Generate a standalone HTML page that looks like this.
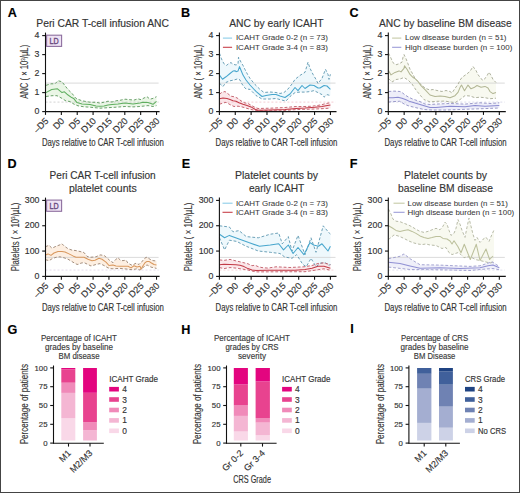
<!DOCTYPE html><html><head><meta charset="utf-8"><style>html,body{margin:0;padding:0;background:#fff;width:520px;height:493px;overflow:hidden;position:relative}svg text{font-family:"Liberation Sans", sans-serif}</style></head><body><svg width="520" height="493" viewBox="0 0 520 493" style="position:absolute;left:0;top:0;font-family:'Liberation Sans', sans-serif">
<rect x="0" y="0" width="520" height="493" fill="#fff"/>
<text x="7.70" y="17.10" font-size="12.6" text-anchor="start" fill="#000" font-weight="bold" stroke="#000" stroke-width="0.15">A</text>
<text x="181.10" y="16.70" font-size="12.6" text-anchor="start" fill="#000" font-weight="bold" stroke="#000" stroke-width="0.15">B</text>
<text x="349.60" y="17.00" font-size="12.6" text-anchor="start" fill="#000" font-weight="bold" stroke="#000" stroke-width="0.15">C</text>
<text x="7.60" y="168.30" font-size="12.6" text-anchor="start" fill="#000" font-weight="bold" stroke="#000" stroke-width="0.15">D</text>
<text x="181.80" y="168.30" font-size="12.6" text-anchor="start" fill="#000" font-weight="bold" stroke="#000" stroke-width="0.15">E</text>
<text x="349.80" y="168.30" font-size="12.6" text-anchor="start" fill="#000" font-weight="bold" stroke="#000" stroke-width="0.15">F</text>
<text x="7.60" y="333.60" font-size="12.6" text-anchor="start" fill="#000" font-weight="bold" stroke="#000" stroke-width="0.15">G</text>
<text x="181.30" y="333.60" font-size="12.6" text-anchor="start" fill="#000" font-weight="bold" stroke="#000" stroke-width="0.15">H</text>
<text x="350.20" y="333.30" font-size="12.6" text-anchor="start" fill="#000" font-weight="bold" stroke="#000" stroke-width="0.15">I</text>
<polygon points="46.00,85.30 51.00,83.80 55.00,83.80 58.00,80.70 62.00,81.80 65.00,85.70 68.00,89.50 72.00,93.40 76.00,98.50 82.00,100.80 90.00,102.20 96.00,102.30 100.00,103.10 104.00,102.20 108.00,101.20 112.00,102.00 116.00,100.80 120.00,100.30 125.00,99.20 130.00,99.70 134.00,100.10 138.00,98.80 141.00,99.70 144.00,98.00 147.00,96.70 150.00,99.20 153.00,98.40 156.50,96.70 156.50,105.60 153.00,106.50 148.00,105.60 140.00,106.50 133.00,106.90 125.00,106.50 116.00,107.20 108.00,107.70 100.00,108.20 90.00,107.20 84.00,106.80 78.00,105.80 74.00,104.20 70.00,101.50 66.00,101.00 62.00,98.40 57.00,95.70 52.00,95.70 46.00,96.50" fill="#eaf6e6" stroke="none"/>
<line x1="45.50" y1="83.10" x2="158.60" y2="83.10" stroke="#d2d2d2" stroke-width="0.8"/>
<line x1="45.50" y1="102.10" x2="158.60" y2="102.10" stroke="#c8c8c8" stroke-width="0.8" stroke-dasharray="2,2"/>
<polyline points="46.00,85.30 51.00,83.80 55.00,83.80 58.00,80.70 62.00,81.80 65.00,85.70 68.00,89.50 72.00,93.40 76.00,98.50 82.00,100.80 90.00,102.20 96.00,102.30 100.00,103.10 104.00,102.20 108.00,101.20 112.00,102.00 116.00,100.80 120.00,100.30 125.00,99.20 130.00,99.70 134.00,100.10 138.00,98.80 141.00,99.70 144.00,98.00 147.00,96.70 150.00,99.20 153.00,98.40 156.50,96.70" fill="none" stroke="#5a965a" stroke-width="0.9" stroke-dasharray="2.8,1.9" stroke-linejoin="round"/>
<polyline points="46.00,96.50 52.00,95.70 57.00,95.70 62.00,98.40 66.00,101.00 70.00,101.50 74.00,104.20 78.00,105.80 84.00,106.80 90.00,107.20 100.00,108.20 108.00,107.70 116.00,107.20 125.00,106.50 133.00,106.90 140.00,106.50 148.00,105.60 153.00,106.50 156.50,105.60" fill="none" stroke="#5a965a" stroke-width="0.9" stroke-dasharray="2.8,1.9" stroke-linejoin="round"/>
<polyline points="45.90,92.60 51.70,89.50 57.50,88.80 62.00,92.60 64.40,91.80 67.00,94.20 71.70,97.60 73.60,98.40 77.00,102.60 82.00,104.00 90.00,104.50 96.00,105.90 100.00,106.30 104.00,105.90 108.00,104.90 112.00,104.50 118.00,104.00 125.00,103.00 133.00,103.90 140.00,103.00 143.00,102.20 148.00,102.60 153.00,104.30 156.50,101.40" fill="none" stroke="#5fae5f" stroke-width="1.05" stroke-linejoin="round"/>
<line x1="45.50" y1="32.60" x2="45.50" y2="112.10" stroke="#111" stroke-width="1.1"/>
<line x1="42.20" y1="111.60" x2="45.50" y2="111.60" stroke="#111" stroke-width="1.1"/>
<text x="39.50" y="114.20" font-size="8.8" text-anchor="end" fill="#333" font-weight="normal" stroke="#333" stroke-width="0.15">0</text>
<line x1="42.20" y1="92.60" x2="45.50" y2="92.60" stroke="#111" stroke-width="1.1"/>
<text x="39.50" y="95.20" font-size="8.8" text-anchor="end" fill="#333" font-weight="normal" stroke="#333" stroke-width="0.15">1</text>
<line x1="42.20" y1="73.60" x2="45.50" y2="73.60" stroke="#111" stroke-width="1.1"/>
<text x="39.50" y="76.20" font-size="8.8" text-anchor="end" fill="#333" font-weight="normal" stroke="#333" stroke-width="0.15">2</text>
<line x1="42.20" y1="54.60" x2="45.50" y2="54.60" stroke="#111" stroke-width="1.1"/>
<text x="39.50" y="57.20" font-size="8.8" text-anchor="end" fill="#333" font-weight="normal" stroke="#333" stroke-width="0.15">3</text>
<line x1="42.20" y1="35.60" x2="45.50" y2="35.60" stroke="#111" stroke-width="1.1"/>
<text x="39.50" y="38.20" font-size="8.8" text-anchor="end" fill="#333" font-weight="normal" stroke="#333" stroke-width="0.15">4</text>
<line x1="45.00" y1="111.60" x2="159.60" y2="111.60" stroke="#111" stroke-width="1.1"/>
<line x1="45.50" y1="111.60" x2="45.50" y2="114.90" stroke="#111" stroke-width="1.1"/>
<text transform="translate(49.10,121.60) rotate(-45)" font-size="9.2" text-anchor="end" fill="#333" stroke="#333" stroke-width="0.15">–D5</text>
<line x1="61.36" y1="111.60" x2="61.36" y2="114.90" stroke="#111" stroke-width="1.1"/>
<text transform="translate(64.96,121.60) rotate(-45)" font-size="9.2" text-anchor="end" fill="#333" stroke="#333" stroke-width="0.15">D0</text>
<line x1="77.22" y1="111.60" x2="77.22" y2="114.90" stroke="#111" stroke-width="1.1"/>
<text transform="translate(80.82,121.60) rotate(-45)" font-size="9.2" text-anchor="end" fill="#333" stroke="#333" stroke-width="0.15">D5</text>
<line x1="93.08" y1="111.60" x2="93.08" y2="114.90" stroke="#111" stroke-width="1.1"/>
<text transform="translate(96.68,121.60) rotate(-45)" font-size="9.2" text-anchor="end" fill="#333" stroke="#333" stroke-width="0.15">D10</text>
<line x1="108.94" y1="111.60" x2="108.94" y2="114.90" stroke="#111" stroke-width="1.1"/>
<text transform="translate(112.54,121.60) rotate(-45)" font-size="9.2" text-anchor="end" fill="#333" stroke="#333" stroke-width="0.15">D15</text>
<line x1="124.80" y1="111.60" x2="124.80" y2="114.90" stroke="#111" stroke-width="1.1"/>
<text transform="translate(128.40,121.60) rotate(-45)" font-size="9.2" text-anchor="end" fill="#333" stroke="#333" stroke-width="0.15">D20</text>
<line x1="140.66" y1="111.60" x2="140.66" y2="114.90" stroke="#111" stroke-width="1.1"/>
<text transform="translate(144.26,121.60) rotate(-45)" font-size="9.2" text-anchor="end" fill="#333" stroke="#333" stroke-width="0.15">D25</text>
<line x1="156.52" y1="111.60" x2="156.52" y2="114.90" stroke="#111" stroke-width="1.1"/>
<text transform="translate(160.12,121.60) rotate(-45)" font-size="9.2" text-anchor="end" fill="#333" stroke="#333" stroke-width="0.15">D30</text>
<text transform="translate(27.90,71.80) rotate(-90)" font-size="10.2" text-anchor="middle" fill="#333" stroke="#333" stroke-width="0.12" textLength="54" lengthAdjust="spacingAndGlyphs">ANC ( × 10<tspan font-size="6" dy="-3.2">3</tspan><tspan dy="3.2">/µL)</tspan></text>
<polygon points="219.50,53.20 221.50,58.90 224.00,63.80 226.50,65.40 229.00,63.40 231.00,62.60 233.00,64.20 236.00,65.00 238.00,64.20 238.50,57.30 241.00,62.20 243.00,65.40 245.00,69.50 247.50,74.30 250.00,78.40 255.00,84.50 260.00,89.40 264.00,92.50 270.00,92.00 276.00,92.50 280.00,93.50 284.00,92.50 288.00,89.00 292.00,84.00 295.00,79.40 300.00,75.40 305.00,72.30 308.00,62.20 310.00,68.30 313.00,74.30 316.00,79.40 318.00,83.50 322.00,78.40 325.50,69.30 328.00,74.30 329.00,79.40 330.40,74.30 330.40,95.60 327.00,94.60 324.00,97.20 322.00,94.60 318.00,92.60 314.00,90.60 310.00,91.60 305.00,92.10 300.00,92.10 295.00,92.60 290.00,96.50 286.00,101.10 282.00,100.10 276.00,98.50 270.00,99.00 262.00,99.00 256.00,95.50 250.00,89.40 246.00,88.90 244.00,86.90 242.00,84.00 240.00,80.00 238.00,78.80 234.00,80.00 230.00,80.80 226.00,82.40 223.00,86.50 219.50,83.30" fill="#eef8fc" stroke="none"/>
<polygon points="219.50,94.20 222.00,92.30 225.00,91.50 228.00,93.80 231.00,96.20 235.00,96.90 238.00,98.50 241.00,100.80 244.00,102.70 248.00,103.50 252.00,105.80 255.00,107.30 258.00,108.50 270.00,108.20 285.00,107.50 296.00,106.50 305.00,106.50 312.00,106.20 318.00,105.40 322.00,104.60 326.00,103.50 330.40,102.70 330.40,108.10 325.00,108.50 320.00,108.80 310.00,109.20 296.00,109.60 280.00,110.80 258.00,110.80 255.00,110.40 250.00,109.20 246.00,108.10 242.00,106.90 238.00,106.20 234.00,106.50 230.00,104.60 226.00,102.30 223.00,103.10 219.50,104.20" fill="#fbe7ea" stroke="none"/>
<line x1="219.40" y1="83.10" x2="335.50" y2="83.10" stroke="#d2d2d2" stroke-width="0.8"/>
<line x1="219.40" y1="102.10" x2="335.50" y2="102.10" stroke="#f0c0c8" stroke-width="0.8" stroke-dasharray="2,2"/>
<polyline points="219.50,53.20 221.50,58.90 224.00,63.80 226.50,65.40 229.00,63.40 231.00,62.60 233.00,64.20 236.00,65.00 238.00,64.20 238.50,57.30 241.00,62.20 243.00,65.40 245.00,69.50 247.50,74.30 250.00,78.40 255.00,84.50 260.00,89.40 264.00,92.50 270.00,92.00 276.00,92.50 280.00,93.50 284.00,92.50 288.00,89.00 292.00,84.00 295.00,79.40 300.00,75.40 305.00,72.30 308.00,62.20 310.00,68.30 313.00,74.30 316.00,79.40 318.00,83.50 322.00,78.40 325.50,69.30 328.00,74.30 329.00,79.40 330.40,74.30" fill="none" stroke="#5b96b0" stroke-width="0.9" stroke-dasharray="2.8,1.9" stroke-linejoin="round"/>
<polyline points="219.50,83.30 223.00,86.50 226.00,82.40 230.00,80.80 234.00,80.00 238.00,78.80 240.00,80.00 242.00,84.00 244.00,86.90 246.00,88.90 250.00,89.40 256.00,95.50 262.00,99.00 270.00,99.00 276.00,98.50 282.00,100.10 286.00,101.10 290.00,96.50 295.00,92.60 300.00,92.10 305.00,92.10 310.00,91.60 314.00,90.60 318.00,92.60 322.00,94.60 324.00,97.20 327.00,94.60 330.40,95.60" fill="none" stroke="#5b96b0" stroke-width="0.9" stroke-dasharray="2.8,1.9" stroke-linejoin="round"/>
<polyline points="219.50,75.10 222.50,79.20 226.00,76.80 230.00,73.50 233.00,71.10 235.00,70.70 236.00,71.70 238.00,71.10 239.50,66.60 241.00,70.30 243.00,75.10 246.00,80.00 250.00,85.00 256.00,91.40 262.00,96.50 266.00,95.50 272.00,94.50 276.00,94.50 280.00,96.00 285.00,97.50 290.00,94.00 295.00,87.50 298.00,90.60 302.00,85.50 305.00,88.50 310.00,85.00 314.00,85.50 318.00,88.00 320.00,88.00 324.00,85.50 327.00,86.00 330.40,89.30" fill="none" stroke="#47a6cd" stroke-width="1.05" stroke-linejoin="round"/>
<polyline points="219.50,94.20 222.00,92.30 225.00,91.50 228.00,93.80 231.00,96.20 235.00,96.90 238.00,98.50 241.00,100.80 244.00,102.70 248.00,103.50 252.00,105.80 255.00,107.30 258.00,108.50 270.00,108.20 285.00,107.50 296.00,106.50 305.00,106.50 312.00,106.20 318.00,105.40 322.00,104.60 326.00,103.50 330.40,102.70" fill="none" stroke="#c05864" stroke-width="0.9" stroke-dasharray="2.8,1.9" stroke-linejoin="round"/>
<polyline points="219.50,104.20 223.00,103.10 226.00,102.30 230.00,104.60 234.00,106.50 238.00,106.20 242.00,106.90 246.00,108.10 250.00,109.20 255.00,110.40 258.00,110.80 280.00,110.80 296.00,109.60 310.00,109.20 320.00,108.80 325.00,108.50 330.40,108.10" fill="none" stroke="#c05864" stroke-width="0.9" stroke-dasharray="2.8,1.9" stroke-linejoin="round"/>
<polyline points="219.50,98.80 223.00,98.10 227.00,98.50 230.00,99.60 233.00,100.80 236.00,101.20 239.00,102.70 243.00,104.20 247.00,105.40 251.00,106.90 255.00,109.20 258.00,110.20 270.00,110.00 285.00,109.50 296.00,108.50 305.00,108.10 315.00,107.30 322.00,106.50 326.00,105.80 330.40,105.00" fill="none" stroke="#c23a46" stroke-width="1.05" stroke-linejoin="round"/>
<line x1="219.40" y1="32.60" x2="219.40" y2="112.10" stroke="#111" stroke-width="1.1"/>
<line x1="216.10" y1="111.60" x2="219.40" y2="111.60" stroke="#111" stroke-width="1.1"/>
<text x="213.40" y="114.20" font-size="8.8" text-anchor="end" fill="#333" font-weight="normal" stroke="#333" stroke-width="0.15">0</text>
<line x1="216.10" y1="92.60" x2="219.40" y2="92.60" stroke="#111" stroke-width="1.1"/>
<text x="213.40" y="95.20" font-size="8.8" text-anchor="end" fill="#333" font-weight="normal" stroke="#333" stroke-width="0.15">1</text>
<line x1="216.10" y1="73.60" x2="219.40" y2="73.60" stroke="#111" stroke-width="1.1"/>
<text x="213.40" y="76.20" font-size="8.8" text-anchor="end" fill="#333" font-weight="normal" stroke="#333" stroke-width="0.15">2</text>
<line x1="216.10" y1="54.60" x2="219.40" y2="54.60" stroke="#111" stroke-width="1.1"/>
<text x="213.40" y="57.20" font-size="8.8" text-anchor="end" fill="#333" font-weight="normal" stroke="#333" stroke-width="0.15">3</text>
<line x1="216.10" y1="35.60" x2="219.40" y2="35.60" stroke="#111" stroke-width="1.1"/>
<text x="213.40" y="38.20" font-size="8.8" text-anchor="end" fill="#333" font-weight="normal" stroke="#333" stroke-width="0.15">4</text>
<line x1="218.90" y1="111.60" x2="336.50" y2="111.60" stroke="#111" stroke-width="1.1"/>
<line x1="219.40" y1="111.60" x2="219.40" y2="114.90" stroke="#111" stroke-width="1.1"/>
<text transform="translate(223.00,121.60) rotate(-45)" font-size="9.2" text-anchor="end" fill="#333" stroke="#333" stroke-width="0.15">–D5</text>
<line x1="235.26" y1="111.60" x2="235.26" y2="114.90" stroke="#111" stroke-width="1.1"/>
<text transform="translate(238.86,121.60) rotate(-45)" font-size="9.2" text-anchor="end" fill="#333" stroke="#333" stroke-width="0.15">D0</text>
<line x1="251.12" y1="111.60" x2="251.12" y2="114.90" stroke="#111" stroke-width="1.1"/>
<text transform="translate(254.72,121.60) rotate(-45)" font-size="9.2" text-anchor="end" fill="#333" stroke="#333" stroke-width="0.15">D5</text>
<line x1="266.98" y1="111.60" x2="266.98" y2="114.90" stroke="#111" stroke-width="1.1"/>
<text transform="translate(270.58,121.60) rotate(-45)" font-size="9.2" text-anchor="end" fill="#333" stroke="#333" stroke-width="0.15">D10</text>
<line x1="282.84" y1="111.60" x2="282.84" y2="114.90" stroke="#111" stroke-width="1.1"/>
<text transform="translate(286.44,121.60) rotate(-45)" font-size="9.2" text-anchor="end" fill="#333" stroke="#333" stroke-width="0.15">D15</text>
<line x1="298.70" y1="111.60" x2="298.70" y2="114.90" stroke="#111" stroke-width="1.1"/>
<text transform="translate(302.30,121.60) rotate(-45)" font-size="9.2" text-anchor="end" fill="#333" stroke="#333" stroke-width="0.15">D20</text>
<line x1="314.56" y1="111.60" x2="314.56" y2="114.90" stroke="#111" stroke-width="1.1"/>
<text transform="translate(318.16,121.60) rotate(-45)" font-size="9.2" text-anchor="end" fill="#333" stroke="#333" stroke-width="0.15">D25</text>
<line x1="330.42" y1="111.60" x2="330.42" y2="114.90" stroke="#111" stroke-width="1.1"/>
<text transform="translate(334.02,121.60) rotate(-45)" font-size="9.2" text-anchor="end" fill="#333" stroke="#333" stroke-width="0.15">D30</text>
<text transform="translate(201.80,71.80) rotate(-90)" font-size="10.2" text-anchor="middle" fill="#333" stroke="#333" stroke-width="0.12" textLength="54" lengthAdjust="spacingAndGlyphs">ANC ( × 10<tspan font-size="6" dy="-3.2">3</tspan><tspan dy="3.2">/µL)</tspan></text>
<polygon points="388.50,53.10 391.00,58.20 393.00,62.70 396.00,64.80 399.00,63.80 402.00,62.20 403.00,57.20 404.00,54.60 406.00,58.70 408.00,63.80 410.00,69.30 413.00,74.40 415.00,78.50 418.00,81.50 422.00,85.60 426.00,88.60 430.00,90.00 433.00,89.50 437.00,90.50 442.00,91.50 446.00,90.50 450.00,91.50 452.00,93.00 455.00,88.40 458.00,84.30 460.00,80.30 462.00,77.40 466.00,74.60 470.00,71.40 473.00,66.50 476.00,70.50 478.00,74.60 481.00,78.70 483.00,80.30 486.00,77.40 489.00,72.20 491.00,75.40 493.00,79.40 496.00,82.50 496.00,98.20 490.00,98.70 485.00,97.70 480.00,97.20 475.00,97.70 470.00,96.00 465.00,95.60 460.00,99.60 455.00,102.70 445.00,101.10 437.00,101.30 430.00,101.90 424.00,99.60 420.00,95.00 416.00,90.00 412.00,84.00 408.00,80.00 404.00,77.50 400.00,79.00 396.00,79.50 392.00,82.00 388.50,78.50" fill="#f8f9f0" stroke="none"/>
<polygon points="388.50,91.50 394.00,91.10 400.00,91.50 402.00,92.50 405.00,94.90 408.00,96.80 412.00,98.80 416.00,100.20 420.00,101.60 425.00,104.00 430.00,104.50 436.00,104.10 450.00,103.50 465.00,104.10 480.00,102.80 490.00,103.50 499.30,102.80 499.30,108.00 485.00,108.60 465.00,109.30 446.00,110.00 432.00,110.00 424.00,109.50 416.00,107.70 409.00,106.00 404.50,104.20 399.80,101.30 393.00,101.60 388.50,102.10" fill="#eeeef9" stroke="none"/>
<line x1="388.30" y1="83.10" x2="504.80" y2="83.10" stroke="#d2d2d2" stroke-width="0.8"/>
<line x1="388.30" y1="102.10" x2="504.80" y2="102.10" stroke="#d0d0e4" stroke-width="0.8" stroke-dasharray="2,2"/>
<polyline points="388.50,53.10 391.00,58.20 393.00,62.70 396.00,64.80 399.00,63.80 402.00,62.20 403.00,57.20 404.00,54.60 406.00,58.70 408.00,63.80 410.00,69.30 413.00,74.40 415.00,78.50 418.00,81.50 422.00,85.60 426.00,88.60 430.00,90.00 433.00,89.50 437.00,90.50 442.00,91.50 446.00,90.50 450.00,91.50 452.00,93.00 455.00,88.40 458.00,84.30 460.00,80.30 462.00,77.40 466.00,74.60 470.00,71.40 473.00,66.50 476.00,70.50 478.00,74.60 481.00,78.70 483.00,80.30 486.00,77.40 489.00,72.20 491.00,75.40 493.00,79.40 496.00,82.50" fill="none" stroke="#a6a994" stroke-width="0.9" stroke-dasharray="2.8,1.9" stroke-linejoin="round"/>
<polyline points="388.50,78.50 392.00,82.00 396.00,79.50 400.00,79.00 404.00,77.50 408.00,80.00 412.00,84.00 416.00,90.00 420.00,95.00 424.00,99.60 430.00,101.90 437.00,101.30 445.00,101.10 455.00,102.70 460.00,99.60 465.00,95.60 470.00,96.00 475.00,97.70 480.00,97.20 485.00,97.70 490.00,98.70 496.00,98.20" fill="none" stroke="#a6a994" stroke-width="0.9" stroke-dasharray="2.8,1.9" stroke-linejoin="round"/>
<polyline points="388.50,70.40 391.00,74.90 395.00,72.40 399.00,70.90 401.00,71.90 404.00,68.30 404.50,65.80 407.00,69.30 410.00,74.40 413.00,77.50 415.00,78.50 418.00,81.50 421.00,85.60 425.00,89.60 430.00,95.00 435.00,96.60 440.00,96.10 445.00,96.60 450.00,97.80 455.00,95.70 458.00,92.40 460.00,87.60 461.50,85.10 464.50,90.80 468.00,85.10 471.00,88.80 474.00,87.60 477.00,85.50 481.00,87.20 485.00,86.40 488.00,88.00 490.00,91.60 493.00,93.60 496.00,92.60" fill="none" stroke="#b2b694" stroke-width="1.05" stroke-linejoin="round"/>
<polyline points="388.50,91.50 394.00,91.10 400.00,91.50 402.00,92.50 405.00,94.90 408.00,96.80 412.00,98.80 416.00,100.20 420.00,101.60 425.00,104.00 430.00,104.50 436.00,104.10 450.00,103.50 465.00,104.10 480.00,102.80 490.00,103.50 499.30,102.80" fill="none" stroke="#9090c4" stroke-width="0.9" stroke-dasharray="2.8,1.9" stroke-linejoin="round"/>
<polyline points="388.50,102.10 393.00,101.60 399.80,101.30 404.50,104.20 409.00,106.00 416.00,107.70 424.00,109.50 432.00,110.00 446.00,110.00 465.00,109.30 485.00,108.60 499.30,108.00" fill="none" stroke="#9090c4" stroke-width="0.9" stroke-dasharray="2.8,1.9" stroke-linejoin="round"/>
<polyline points="388.50,97.80 393.00,97.80 398.00,97.30 402.00,98.30 406.00,99.70 410.00,101.60 415.00,103.10 420.00,104.50 425.00,106.00 430.00,107.40 436.00,107.50 450.00,106.20 465.00,106.80 475.00,105.50 485.00,106.20 499.30,105.50" fill="none" stroke="#8a8ad0" stroke-width="1.05" stroke-linejoin="round"/>
<line x1="388.30" y1="32.60" x2="388.30" y2="112.10" stroke="#111" stroke-width="1.1"/>
<line x1="385.00" y1="111.60" x2="388.30" y2="111.60" stroke="#111" stroke-width="1.1"/>
<text x="382.30" y="114.20" font-size="8.8" text-anchor="end" fill="#333" font-weight="normal" stroke="#333" stroke-width="0.15">0</text>
<line x1="385.00" y1="92.60" x2="388.30" y2="92.60" stroke="#111" stroke-width="1.1"/>
<text x="382.30" y="95.20" font-size="8.8" text-anchor="end" fill="#333" font-weight="normal" stroke="#333" stroke-width="0.15">1</text>
<line x1="385.00" y1="73.60" x2="388.30" y2="73.60" stroke="#111" stroke-width="1.1"/>
<text x="382.30" y="76.20" font-size="8.8" text-anchor="end" fill="#333" font-weight="normal" stroke="#333" stroke-width="0.15">2</text>
<line x1="385.00" y1="54.60" x2="388.30" y2="54.60" stroke="#111" stroke-width="1.1"/>
<text x="382.30" y="57.20" font-size="8.8" text-anchor="end" fill="#333" font-weight="normal" stroke="#333" stroke-width="0.15">3</text>
<line x1="385.00" y1="35.60" x2="388.30" y2="35.60" stroke="#111" stroke-width="1.1"/>
<text x="382.30" y="38.20" font-size="8.8" text-anchor="end" fill="#333" font-weight="normal" stroke="#333" stroke-width="0.15">4</text>
<line x1="387.80" y1="111.60" x2="505.80" y2="111.60" stroke="#111" stroke-width="1.1"/>
<line x1="388.30" y1="111.60" x2="388.30" y2="114.90" stroke="#111" stroke-width="1.1"/>
<text transform="translate(391.90,121.60) rotate(-45)" font-size="9.2" text-anchor="end" fill="#333" stroke="#333" stroke-width="0.15">–D5</text>
<line x1="404.16" y1="111.60" x2="404.16" y2="114.90" stroke="#111" stroke-width="1.1"/>
<text transform="translate(407.76,121.60) rotate(-45)" font-size="9.2" text-anchor="end" fill="#333" stroke="#333" stroke-width="0.15">D0</text>
<line x1="420.02" y1="111.60" x2="420.02" y2="114.90" stroke="#111" stroke-width="1.1"/>
<text transform="translate(423.62,121.60) rotate(-45)" font-size="9.2" text-anchor="end" fill="#333" stroke="#333" stroke-width="0.15">D5</text>
<line x1="435.88" y1="111.60" x2="435.88" y2="114.90" stroke="#111" stroke-width="1.1"/>
<text transform="translate(439.48,121.60) rotate(-45)" font-size="9.2" text-anchor="end" fill="#333" stroke="#333" stroke-width="0.15">D10</text>
<line x1="451.74" y1="111.60" x2="451.74" y2="114.90" stroke="#111" stroke-width="1.1"/>
<text transform="translate(455.34,121.60) rotate(-45)" font-size="9.2" text-anchor="end" fill="#333" stroke="#333" stroke-width="0.15">D15</text>
<line x1="467.60" y1="111.60" x2="467.60" y2="114.90" stroke="#111" stroke-width="1.1"/>
<text transform="translate(471.20,121.60) rotate(-45)" font-size="9.2" text-anchor="end" fill="#333" stroke="#333" stroke-width="0.15">D20</text>
<line x1="483.46" y1="111.60" x2="483.46" y2="114.90" stroke="#111" stroke-width="1.1"/>
<text transform="translate(487.06,121.60) rotate(-45)" font-size="9.2" text-anchor="end" fill="#333" stroke="#333" stroke-width="0.15">D25</text>
<line x1="499.32" y1="111.60" x2="499.32" y2="114.90" stroke="#111" stroke-width="1.1"/>
<text transform="translate(502.92,121.60) rotate(-45)" font-size="9.2" text-anchor="end" fill="#333" stroke="#333" stroke-width="0.15">D30</text>
<text transform="translate(370.70,71.80) rotate(-90)" font-size="10.2" text-anchor="middle" fill="#333" stroke="#333" stroke-width="0.12" textLength="54" lengthAdjust="spacingAndGlyphs">ANC ( × 10<tspan font-size="6" dy="-3.2">3</tspan><tspan dy="3.2">/µL)</tspan></text>
<polygon points="45.50,246.70 49.00,245.30 52.00,248.20 56.00,246.30 60.00,244.80 62.00,243.80 64.00,245.80 68.00,248.70 72.00,250.10 76.00,250.60 80.00,251.50 84.00,252.50 87.00,256.30 90.00,257.30 96.00,256.80 100.00,254.90 104.00,255.40 107.00,257.80 110.00,260.70 113.00,262.60 116.00,259.20 118.00,257.80 121.00,260.70 124.00,260.50 126.00,260.10 128.00,263.20 132.00,265.30 136.00,263.20 139.00,264.50 141.00,262.30 143.00,260.60 145.00,258.00 147.00,257.10 150.00,259.30 153.00,260.60 156.50,261.00 156.50,268.40 151.00,267.10 147.00,264.90 143.00,267.50 140.00,270.10 137.00,268.80 132.00,269.70 126.00,269.00 120.00,268.40 112.00,268.80 108.00,267.90 104.00,265.50 100.00,263.60 96.00,264.50 91.00,266.00 88.00,264.50 84.00,262.60 81.00,263.10 78.00,264.50 76.00,264.00 72.00,261.60 68.00,259.20 64.00,257.80 60.00,256.80 56.00,257.30 52.00,258.80 49.00,260.70 45.50,259.70" fill="#fdefe2" stroke="none"/>
<line x1="45.50" y1="257.40" x2="158.60" y2="257.40" stroke="#d2d2d2" stroke-width="0.8"/>
<line x1="45.50" y1="270.07" x2="158.60" y2="270.07" stroke="#dcd0e6" stroke-width="0.8" stroke-dasharray="2,2"/>
<polyline points="45.50,246.70 49.00,245.30 52.00,248.20 56.00,246.30 60.00,244.80 62.00,243.80 64.00,245.80 68.00,248.70 72.00,250.10 76.00,250.60 80.00,251.50 84.00,252.50 87.00,256.30 90.00,257.30 96.00,256.80 100.00,254.90 104.00,255.40 107.00,257.80 110.00,260.70 113.00,262.60 116.00,259.20 118.00,257.80 121.00,260.70 124.00,260.50 126.00,260.10 128.00,263.20 132.00,265.30 136.00,263.20 139.00,264.50 141.00,262.30 143.00,260.60 145.00,258.00 147.00,257.10 150.00,259.30 153.00,260.60 156.50,261.00" fill="none" stroke="#9a8270" stroke-width="0.9" stroke-dasharray="2.8,1.9" stroke-linejoin="round"/>
<polyline points="45.50,259.70 49.00,260.70 52.00,258.80 56.00,257.30 60.00,256.80 64.00,257.80 68.00,259.20 72.00,261.60 76.00,264.00 78.00,264.50 81.00,263.10 84.00,262.60 88.00,264.50 91.00,266.00 96.00,264.50 100.00,263.60 104.00,265.50 108.00,267.90 112.00,268.80 120.00,268.40 126.00,269.00 132.00,269.70 137.00,268.80 140.00,270.10 143.00,267.50 147.00,264.90 151.00,267.10 156.50,268.40" fill="none" stroke="#9a8270" stroke-width="0.9" stroke-dasharray="2.8,1.9" stroke-linejoin="round"/>
<polyline points="45.50,254.90 48.00,253.90 51.00,255.40 54.00,253.00 58.00,251.50 62.00,251.50 65.00,252.00 69.00,253.90 73.00,255.90 76.00,257.30 84.00,257.30 88.00,259.20 92.00,260.70 95.00,260.20 99.00,258.30 102.00,259.20 106.00,262.10 109.00,265.50 113.00,265.00 116.00,266.00 120.00,266.30 128.00,266.20 131.00,267.90 134.00,265.80 137.00,267.10 140.00,266.20 141.00,269.20 143.00,265.80 145.00,262.70 147.00,261.40 149.00,261.40 151.00,262.70 154.00,264.50 156.50,264.90" fill="none" stroke="#d9985e" stroke-width="1.05" stroke-linejoin="round"/>
<line x1="45.50" y1="197.60" x2="45.50" y2="276.90" stroke="#111" stroke-width="1.1"/>
<line x1="42.20" y1="276.40" x2="45.50" y2="276.40" stroke="#111" stroke-width="1.1"/>
<text x="39.50" y="279.00" font-size="8.8" text-anchor="end" fill="#333" font-weight="normal" stroke="#333" stroke-width="0.15">0</text>
<line x1="42.20" y1="251.07" x2="45.50" y2="251.07" stroke="#111" stroke-width="1.1"/>
<text x="39.50" y="253.67" font-size="8.8" text-anchor="end" fill="#333" font-weight="normal" stroke="#333" stroke-width="0.15">100</text>
<line x1="42.20" y1="225.74" x2="45.50" y2="225.74" stroke="#111" stroke-width="1.1"/>
<text x="39.50" y="228.34" font-size="8.8" text-anchor="end" fill="#333" font-weight="normal" stroke="#333" stroke-width="0.15">200</text>
<line x1="42.20" y1="200.41" x2="45.50" y2="200.41" stroke="#111" stroke-width="1.1"/>
<text x="39.50" y="203.01" font-size="8.8" text-anchor="end" fill="#333" font-weight="normal" stroke="#333" stroke-width="0.15">300</text>
<line x1="45.00" y1="276.40" x2="159.60" y2="276.40" stroke="#111" stroke-width="1.1"/>
<line x1="45.50" y1="276.40" x2="45.50" y2="279.70" stroke="#111" stroke-width="1.1"/>
<text transform="translate(49.10,286.40) rotate(-45)" font-size="9.2" text-anchor="end" fill="#333" stroke="#333" stroke-width="0.15">–D5</text>
<line x1="61.36" y1="276.40" x2="61.36" y2="279.70" stroke="#111" stroke-width="1.1"/>
<text transform="translate(64.96,286.40) rotate(-45)" font-size="9.2" text-anchor="end" fill="#333" stroke="#333" stroke-width="0.15">D0</text>
<line x1="77.22" y1="276.40" x2="77.22" y2="279.70" stroke="#111" stroke-width="1.1"/>
<text transform="translate(80.82,286.40) rotate(-45)" font-size="9.2" text-anchor="end" fill="#333" stroke="#333" stroke-width="0.15">D5</text>
<line x1="93.08" y1="276.40" x2="93.08" y2="279.70" stroke="#111" stroke-width="1.1"/>
<text transform="translate(96.68,286.40) rotate(-45)" font-size="9.2" text-anchor="end" fill="#333" stroke="#333" stroke-width="0.15">D10</text>
<line x1="108.94" y1="276.40" x2="108.94" y2="279.70" stroke="#111" stroke-width="1.1"/>
<text transform="translate(112.54,286.40) rotate(-45)" font-size="9.2" text-anchor="end" fill="#333" stroke="#333" stroke-width="0.15">D15</text>
<line x1="124.80" y1="276.40" x2="124.80" y2="279.70" stroke="#111" stroke-width="1.1"/>
<text transform="translate(128.40,286.40) rotate(-45)" font-size="9.2" text-anchor="end" fill="#333" stroke="#333" stroke-width="0.15">D20</text>
<line x1="140.66" y1="276.40" x2="140.66" y2="279.70" stroke="#111" stroke-width="1.1"/>
<text transform="translate(144.26,286.40) rotate(-45)" font-size="9.2" text-anchor="end" fill="#333" stroke="#333" stroke-width="0.15">D25</text>
<line x1="156.52" y1="276.40" x2="156.52" y2="279.70" stroke="#111" stroke-width="1.1"/>
<text transform="translate(160.12,286.40) rotate(-45)" font-size="9.2" text-anchor="end" fill="#333" stroke="#333" stroke-width="0.15">D30</text>
<text transform="translate(18.50,237.00) rotate(-90)" font-size="10.2" text-anchor="middle" fill="#333" stroke="#333" stroke-width="0.12" textLength="68.7" lengthAdjust="spacingAndGlyphs">Platelets ( × 10<tspan font-size="6" dy="-3.2">3</tspan><tspan dy="3.2">/µL)</tspan></text>
<polygon points="219.50,225.80 229.40,227.00 233.00,231.80 239.00,230.60 246.30,236.60 258.30,237.80 270.30,234.20 278.70,233.00 282.30,243.80 288.30,236.60 292.00,251.00 298.00,235.40 305.00,254.70 311.00,237.80 316.00,252.30 323.20,225.80 329.20,233.00 330.40,234.00 330.40,264.00 329.20,265.50 325.60,263.00 320.80,263.00 316.00,266.70 311.00,258.30 306.30,266.70 302.70,264.30 296.70,254.70 292.00,258.30 284.70,257.00 280.00,253.50 270.30,252.30 258.30,251.00 246.30,246.30 236.60,241.40 229.40,240.20 224.60,249.90 219.50,237.80" fill="#eef8fc" stroke="none"/>
<polygon points="219.50,259.90 224.00,260.40 230.00,259.40 236.00,260.90 242.00,262.30 248.00,263.80 252.00,265.70 255.00,265.20 258.00,266.60 262.00,267.60 268.00,268.10 276.00,266.80 290.00,267.50 304.00,266.80 312.00,265.50 318.00,263.50 324.00,262.80 330.40,264.80 330.40,270.20 324.00,268.80 315.00,270.20 305.00,271.70 256.00,271.90 252.00,271.00 248.00,270.00 242.00,269.00 236.00,268.10 230.00,267.60 224.00,268.60 219.50,267.60" fill="#fbe7ea" stroke="none"/>
<line x1="219.40" y1="257.40" x2="335.50" y2="257.40" stroke="#d2d2d2" stroke-width="0.8"/>
<line x1="219.40" y1="270.07" x2="335.50" y2="270.07" stroke="#f2c9cf" stroke-width="0.8" stroke-dasharray="2,2"/>
<polyline points="219.50,225.80 229.40,227.00 233.00,231.80 239.00,230.60 246.30,236.60 258.30,237.80 270.30,234.20 278.70,233.00 282.30,243.80 288.30,236.60 292.00,251.00 298.00,235.40 305.00,254.70 311.00,237.80 316.00,252.30 323.20,225.80 329.20,233.00 330.40,234.00" fill="none" stroke="#5b96b0" stroke-width="0.9" stroke-dasharray="2.8,1.9" stroke-linejoin="round"/>
<polyline points="219.50,237.80 224.60,249.90 229.40,240.20 236.60,241.40 246.30,246.30 258.30,251.00 270.30,252.30 280.00,253.50 284.70,257.00 292.00,258.30 296.70,254.70 302.70,264.30 306.30,266.70 311.00,258.30 316.00,266.70 320.80,263.00 325.60,263.00 329.20,265.50 330.40,264.00" fill="none" stroke="#5b96b0" stroke-width="0.9" stroke-dasharray="2.8,1.9" stroke-linejoin="round"/>
<polyline points="219.50,234.20 224.60,237.80 229.40,235.40 239.00,239.00 248.70,242.60 259.50,246.30 270.30,245.00 278.70,243.80 283.50,249.90 288.30,245.00 293.10,253.50 298.00,247.50 303.90,254.70 310.00,242.60 313.60,245.00 318.40,246.30 322.00,243.80 328.00,251.00 330.40,246.30" fill="none" stroke="#47a6cd" stroke-width="1.05" stroke-linejoin="round"/>
<polyline points="219.50,259.90 224.00,260.40 230.00,259.40 236.00,260.90 242.00,262.30 248.00,263.80 252.00,265.70 255.00,265.20 258.00,266.60 262.00,267.60 268.00,268.10 276.00,266.80 290.00,267.50 304.00,266.80 312.00,265.50 318.00,263.50 324.00,262.80 330.40,264.80" fill="none" stroke="#c05864" stroke-width="0.9" stroke-dasharray="2.8,1.9" stroke-linejoin="round"/>
<polyline points="219.50,267.60 224.00,268.60 230.00,267.60 236.00,268.10 242.00,269.00 248.00,270.00 252.00,271.00 256.00,271.90 305.00,271.70 315.00,270.20 324.00,268.80 330.40,270.20" fill="none" stroke="#c05864" stroke-width="0.9" stroke-dasharray="2.8,1.9" stroke-linejoin="round"/>
<polyline points="219.50,264.70 224.00,264.20 236.00,264.70 240.00,265.20 244.00,266.60 248.00,268.60 252.00,270.00 256.00,270.50 268.00,270.20 280.00,270.20 295.00,270.20 305.00,269.50 312.00,268.20 318.00,266.20 324.00,266.20 330.40,268.20" fill="none" stroke="#c23a46" stroke-width="1.05" stroke-linejoin="round"/>
<line x1="219.40" y1="197.60" x2="219.40" y2="276.90" stroke="#111" stroke-width="1.1"/>
<line x1="216.10" y1="276.40" x2="219.40" y2="276.40" stroke="#111" stroke-width="1.1"/>
<text x="213.40" y="279.00" font-size="8.8" text-anchor="end" fill="#333" font-weight="normal" stroke="#333" stroke-width="0.15">0</text>
<line x1="216.10" y1="251.07" x2="219.40" y2="251.07" stroke="#111" stroke-width="1.1"/>
<text x="213.40" y="253.67" font-size="8.8" text-anchor="end" fill="#333" font-weight="normal" stroke="#333" stroke-width="0.15">100</text>
<line x1="216.10" y1="225.74" x2="219.40" y2="225.74" stroke="#111" stroke-width="1.1"/>
<text x="213.40" y="228.34" font-size="8.8" text-anchor="end" fill="#333" font-weight="normal" stroke="#333" stroke-width="0.15">200</text>
<line x1="216.10" y1="200.41" x2="219.40" y2="200.41" stroke="#111" stroke-width="1.1"/>
<text x="213.40" y="203.01" font-size="8.8" text-anchor="end" fill="#333" font-weight="normal" stroke="#333" stroke-width="0.15">300</text>
<line x1="218.90" y1="276.40" x2="336.50" y2="276.40" stroke="#111" stroke-width="1.1"/>
<line x1="219.40" y1="276.40" x2="219.40" y2="279.70" stroke="#111" stroke-width="1.1"/>
<text transform="translate(223.00,286.40) rotate(-45)" font-size="9.2" text-anchor="end" fill="#333" stroke="#333" stroke-width="0.15">–D5</text>
<line x1="235.26" y1="276.40" x2="235.26" y2="279.70" stroke="#111" stroke-width="1.1"/>
<text transform="translate(238.86,286.40) rotate(-45)" font-size="9.2" text-anchor="end" fill="#333" stroke="#333" stroke-width="0.15">D0</text>
<line x1="251.12" y1="276.40" x2="251.12" y2="279.70" stroke="#111" stroke-width="1.1"/>
<text transform="translate(254.72,286.40) rotate(-45)" font-size="9.2" text-anchor="end" fill="#333" stroke="#333" stroke-width="0.15">D5</text>
<line x1="266.98" y1="276.40" x2="266.98" y2="279.70" stroke="#111" stroke-width="1.1"/>
<text transform="translate(270.58,286.40) rotate(-45)" font-size="9.2" text-anchor="end" fill="#333" stroke="#333" stroke-width="0.15">D10</text>
<line x1="282.84" y1="276.40" x2="282.84" y2="279.70" stroke="#111" stroke-width="1.1"/>
<text transform="translate(286.44,286.40) rotate(-45)" font-size="9.2" text-anchor="end" fill="#333" stroke="#333" stroke-width="0.15">D15</text>
<line x1="298.70" y1="276.40" x2="298.70" y2="279.70" stroke="#111" stroke-width="1.1"/>
<text transform="translate(302.30,286.40) rotate(-45)" font-size="9.2" text-anchor="end" fill="#333" stroke="#333" stroke-width="0.15">D20</text>
<line x1="314.56" y1="276.40" x2="314.56" y2="279.70" stroke="#111" stroke-width="1.1"/>
<text transform="translate(318.16,286.40) rotate(-45)" font-size="9.2" text-anchor="end" fill="#333" stroke="#333" stroke-width="0.15">D25</text>
<line x1="330.42" y1="276.40" x2="330.42" y2="279.70" stroke="#111" stroke-width="1.1"/>
<text transform="translate(334.02,286.40) rotate(-45)" font-size="9.2" text-anchor="end" fill="#333" stroke="#333" stroke-width="0.15">D30</text>
<text transform="translate(192.40,237.00) rotate(-90)" font-size="10.2" text-anchor="middle" fill="#333" stroke="#333" stroke-width="0.12" textLength="68.7" lengthAdjust="spacingAndGlyphs">Platelets ( × 10<tspan font-size="6" dy="-3.2">3</tspan><tspan dy="3.2">/µL)</tspan></text>
<polygon points="388.50,209.10 391.00,214.10 393.00,219.20 396.00,221.20 400.00,221.70 404.00,223.30 408.00,224.80 412.00,226.80 416.00,229.30 420.00,231.40 424.00,232.40 428.00,231.40 432.00,229.80 436.00,228.30 440.00,229.80 443.00,226.20 445.00,222.20 447.00,224.20 449.00,230.30 451.00,235.40 454.00,233.30 456.00,228.30 458.00,219.60 460.00,224.20 462.00,230.30 465.00,237.40 467.00,227.20 469.00,218.10 471.00,226.20 473.00,234.30 475.00,240.40 477.00,237.40 480.00,242.40 483.00,239.30 486.00,237.30 489.00,241.40 492.00,234.30 494.00,230.00 494.00,262.00 490.00,263.00 486.00,262.00 480.00,260.50 476.00,259.70 472.00,257.70 468.00,256.70 464.00,257.70 461.00,254.60 458.00,252.60 455.00,253.60 452.00,254.60 449.00,252.60 446.00,247.50 442.00,248.50 436.00,245.50 430.00,245.00 426.00,244.00 422.00,244.60 418.00,244.00 414.00,243.00 410.00,241.50 406.00,239.50 402.00,237.50 398.00,235.90 394.00,234.90 391.00,237.50 388.50,239.50" fill="#f8f9f0" stroke="none"/>
<polygon points="388.50,258.70 400.00,256.30 404.00,253.90 410.00,258.70 420.00,264.70 440.00,265.10 455.00,265.80 470.00,266.40 480.00,265.80 488.00,263.10 492.00,261.70 496.00,264.40 499.30,266.40 499.30,269.80 493.00,268.50 485.00,269.10 470.00,270.50 440.00,269.80 410.00,269.50 388.50,267.10" fill="#efeff9" stroke="none"/>
<line x1="388.30" y1="257.40" x2="504.80" y2="257.40" stroke="#d2d2d2" stroke-width="0.8"/>
<line x1="388.30" y1="270.07" x2="504.80" y2="270.07" stroke="#d8d8e8" stroke-width="0.8" stroke-dasharray="2,2"/>
<polyline points="388.50,209.10 391.00,214.10 393.00,219.20 396.00,221.20 400.00,221.70 404.00,223.30 408.00,224.80 412.00,226.80 416.00,229.30 420.00,231.40 424.00,232.40 428.00,231.40 432.00,229.80 436.00,228.30 440.00,229.80 443.00,226.20 445.00,222.20 447.00,224.20 449.00,230.30 451.00,235.40 454.00,233.30 456.00,228.30 458.00,219.60 460.00,224.20 462.00,230.30 465.00,237.40 467.00,227.20 469.00,218.10 471.00,226.20 473.00,234.30 475.00,240.40 477.00,237.40 480.00,242.40 483.00,239.30 486.00,237.30 489.00,241.40 492.00,234.30 494.00,230.00" fill="none" stroke="#b0b39e" stroke-width="0.9" stroke-dasharray="2.8,1.9" stroke-linejoin="round"/>
<polyline points="388.50,239.50 391.00,237.50 394.00,234.90 398.00,235.90 402.00,237.50 406.00,239.50 410.00,241.50 414.00,243.00 418.00,244.00 422.00,244.60 426.00,244.00 430.00,245.00 436.00,245.50 442.00,248.50 446.00,247.50 449.00,252.60 452.00,254.60 455.00,253.60 458.00,252.60 461.00,254.60 464.00,257.70 468.00,256.70 472.00,257.70 476.00,259.70 480.00,260.50 486.00,262.00 490.00,263.00 494.00,262.00" fill="none" stroke="#b0b39e" stroke-width="0.9" stroke-dasharray="2.8,1.9" stroke-linejoin="round"/>
<polyline points="388.50,225.80 392.00,227.80 396.00,230.40 400.00,231.40 404.00,230.40 408.00,229.80 412.00,231.40 416.00,233.40 420.00,235.90 424.00,237.50 428.00,238.50 432.00,237.50 436.00,236.40 440.00,236.40 443.00,238.40 447.00,239.00 450.00,241.00 452.00,244.00 454.00,240.70 458.00,246.70 461.00,252.70 464.30,244.30 470.30,259.50 476.30,244.30 480.00,260.50 486.00,249.00 489.60,259.50 493.00,256.00" fill="none" stroke="#bcc09c" stroke-width="1.05" stroke-linejoin="round"/>
<polyline points="388.50,258.70 400.00,256.30 404.00,253.90 410.00,258.70 420.00,264.70 440.00,265.10 455.00,265.80 470.00,266.40 480.00,265.80 488.00,263.10 492.00,261.70 496.00,264.40 499.30,266.40" fill="none" stroke="#9a9acc" stroke-width="0.9" stroke-dasharray="2.8,1.9" stroke-linejoin="round"/>
<polyline points="388.50,267.10 410.00,269.50 440.00,269.80 470.00,270.50 485.00,269.10 493.00,268.50 499.30,269.80" fill="none" stroke="#9a9acc" stroke-width="0.9" stroke-dasharray="2.8,1.9" stroke-linejoin="round"/>
<polyline points="388.50,262.30 400.00,263.50 410.00,265.90 420.00,268.30 440.00,267.80 460.00,268.50 480.00,267.80 488.00,265.80 493.00,265.10 499.30,267.80" fill="none" stroke="#9090d4" stroke-width="1.05" stroke-linejoin="round"/>
<line x1="388.30" y1="197.60" x2="388.30" y2="276.90" stroke="#111" stroke-width="1.1"/>
<line x1="385.00" y1="276.40" x2="388.30" y2="276.40" stroke="#111" stroke-width="1.1"/>
<text x="382.30" y="279.00" font-size="8.8" text-anchor="end" fill="#333" font-weight="normal" stroke="#333" stroke-width="0.15">0</text>
<line x1="385.00" y1="251.07" x2="388.30" y2="251.07" stroke="#111" stroke-width="1.1"/>
<text x="382.30" y="253.67" font-size="8.8" text-anchor="end" fill="#333" font-weight="normal" stroke="#333" stroke-width="0.15">100</text>
<line x1="385.00" y1="225.74" x2="388.30" y2="225.74" stroke="#111" stroke-width="1.1"/>
<text x="382.30" y="228.34" font-size="8.8" text-anchor="end" fill="#333" font-weight="normal" stroke="#333" stroke-width="0.15">200</text>
<line x1="385.00" y1="200.41" x2="388.30" y2="200.41" stroke="#111" stroke-width="1.1"/>
<text x="382.30" y="203.01" font-size="8.8" text-anchor="end" fill="#333" font-weight="normal" stroke="#333" stroke-width="0.15">300</text>
<line x1="387.80" y1="276.40" x2="505.80" y2="276.40" stroke="#111" stroke-width="1.1"/>
<line x1="388.30" y1="276.40" x2="388.30" y2="279.70" stroke="#111" stroke-width="1.1"/>
<text transform="translate(391.90,286.40) rotate(-45)" font-size="9.2" text-anchor="end" fill="#333" stroke="#333" stroke-width="0.15">–D5</text>
<line x1="404.16" y1="276.40" x2="404.16" y2="279.70" stroke="#111" stroke-width="1.1"/>
<text transform="translate(407.76,286.40) rotate(-45)" font-size="9.2" text-anchor="end" fill="#333" stroke="#333" stroke-width="0.15">D0</text>
<line x1="420.02" y1="276.40" x2="420.02" y2="279.70" stroke="#111" stroke-width="1.1"/>
<text transform="translate(423.62,286.40) rotate(-45)" font-size="9.2" text-anchor="end" fill="#333" stroke="#333" stroke-width="0.15">D5</text>
<line x1="435.88" y1="276.40" x2="435.88" y2="279.70" stroke="#111" stroke-width="1.1"/>
<text transform="translate(439.48,286.40) rotate(-45)" font-size="9.2" text-anchor="end" fill="#333" stroke="#333" stroke-width="0.15">D10</text>
<line x1="451.74" y1="276.40" x2="451.74" y2="279.70" stroke="#111" stroke-width="1.1"/>
<text transform="translate(455.34,286.40) rotate(-45)" font-size="9.2" text-anchor="end" fill="#333" stroke="#333" stroke-width="0.15">D15</text>
<line x1="467.60" y1="276.40" x2="467.60" y2="279.70" stroke="#111" stroke-width="1.1"/>
<text transform="translate(471.20,286.40) rotate(-45)" font-size="9.2" text-anchor="end" fill="#333" stroke="#333" stroke-width="0.15">D20</text>
<line x1="483.46" y1="276.40" x2="483.46" y2="279.70" stroke="#111" stroke-width="1.1"/>
<text transform="translate(487.06,286.40) rotate(-45)" font-size="9.2" text-anchor="end" fill="#333" stroke="#333" stroke-width="0.15">D25</text>
<line x1="499.32" y1="276.40" x2="499.32" y2="279.70" stroke="#111" stroke-width="1.1"/>
<text transform="translate(502.92,286.40) rotate(-45)" font-size="9.2" text-anchor="end" fill="#333" stroke="#333" stroke-width="0.15">D30</text>
<text transform="translate(361.30,237.00) rotate(-90)" font-size="10.2" text-anchor="middle" fill="#333" stroke="#333" stroke-width="0.12" textLength="68.7" lengthAdjust="spacingAndGlyphs">Platelets ( × 10<tspan font-size="6" dy="-3.2">3</tspan><tspan dy="3.2">/µL)</tspan></text>
<rect x="46.6" y="35.20" width="15.0" height="11.2" fill="#efe3f4" stroke="#8d6f9f" stroke-width="1.1"/>
<text x="54.0" y="43.60" font-size="8.6" text-anchor="middle" fill="#6a4a7e" stroke="#6a4a7e" stroke-width="0.35" textLength="9.2" lengthAdjust="spacingAndGlyphs">LD</text>
<rect x="46.6" y="200.10" width="15.0" height="11.2" fill="#efe3f4" stroke="#8d6f9f" stroke-width="1.1"/>
<text x="54.0" y="208.50" font-size="8.6" text-anchor="middle" fill="#6a4a7e" stroke="#6a4a7e" stroke-width="0.35" textLength="9.2" lengthAdjust="spacingAndGlyphs">LD</text>
<text x="102.65" y="26.70" font-size="10.4" text-anchor="middle" fill="#333" font-weight="normal" stroke="#333" stroke-width="0.15" textLength="132.7" lengthAdjust="spacingAndGlyphs">Peri CAR T-cell infusion ANC</text>
<text x="276.40" y="26.70" font-size="10.4" text-anchor="middle" fill="#333" font-weight="normal" stroke="#333" stroke-width="0.15" textLength="94.4" lengthAdjust="spacingAndGlyphs">ANC by early ICAHT</text>
<text x="445.35" y="26.70" font-size="10.4" text-anchor="middle" fill="#333" font-weight="normal" stroke="#333" stroke-width="0.15" textLength="132.7" lengthAdjust="spacingAndGlyphs">ANC by baseline BM disease</text>
<text x="102.65" y="179.30" font-size="10.4" text-anchor="middle" fill="#333" font-weight="normal" stroke="#333" stroke-width="0.15" textLength="106.1" lengthAdjust="spacingAndGlyphs">Peri CAR T-cell infusion</text>
<text x="102.80" y="192.00" font-size="10.4" text-anchor="middle" fill="#333" font-weight="normal" stroke="#333" stroke-width="0.15" textLength="67.8" lengthAdjust="spacingAndGlyphs">platelet counts</text>
<text x="276.50" y="179.30" font-size="10.4" text-anchor="middle" fill="#333" font-weight="normal" stroke="#333" stroke-width="0.15" textLength="83" lengthAdjust="spacingAndGlyphs">Platelet counts by</text>
<text x="276.60" y="192.00" font-size="10.4" text-anchor="middle" fill="#333" font-weight="normal" stroke="#333" stroke-width="0.15" textLength="55.4" lengthAdjust="spacingAndGlyphs">early ICAHT</text>
<text x="445.50" y="179.30" font-size="10.4" text-anchor="middle" fill="#333" font-weight="normal" stroke="#333" stroke-width="0.15" textLength="83" lengthAdjust="spacingAndGlyphs">Platelet counts by</text>
<text x="445.50" y="192.00" font-size="10.4" text-anchor="middle" fill="#333" font-weight="normal" stroke="#333" stroke-width="0.15" textLength="95" lengthAdjust="spacingAndGlyphs">baseline BM disease</text>
<text x="41.90" y="146.10" font-size="10.2" text-anchor="start" fill="#333" font-weight="normal" stroke="#333" stroke-width="0.15" textLength="121.9" lengthAdjust="spacingAndGlyphs">Days relative to CAR T-cell infusion</text>
<text x="41.90" y="311.10" font-size="10.2" text-anchor="start" fill="#333" font-weight="normal" stroke="#333" stroke-width="0.15" textLength="121.9" lengthAdjust="spacingAndGlyphs">Days relative to CAR T-cell infusion</text>
<text x="215.60" y="146.10" font-size="10.2" text-anchor="start" fill="#333" font-weight="normal" stroke="#333" stroke-width="0.15" textLength="121.7" lengthAdjust="spacingAndGlyphs">Days relative to CAR T-cell infusion</text>
<text x="215.60" y="311.10" font-size="10.2" text-anchor="start" fill="#333" font-weight="normal" stroke="#333" stroke-width="0.15" textLength="121.7" lengthAdjust="spacingAndGlyphs">Days relative to CAR T-cell infusion</text>
<text x="384.40" y="146.10" font-size="10.2" text-anchor="start" fill="#333" font-weight="normal" stroke="#333" stroke-width="0.15" textLength="122.3" lengthAdjust="spacingAndGlyphs">Days relative to CAR T-cell infusion</text>
<text x="384.40" y="311.10" font-size="10.2" text-anchor="start" fill="#333" font-weight="normal" stroke="#333" stroke-width="0.15" textLength="122.3" lengthAdjust="spacingAndGlyphs">Days relative to CAR T-cell infusion</text>
<line x1="222.90" y1="38.10" x2="232.10" y2="38.10" stroke="#8ccde8" stroke-width="1.1"/>
<line x1="222.90" y1="47.30" x2="232.10" y2="47.30" stroke="#c8414b" stroke-width="1.1"/>
<text x="235.90" y="40.40" font-size="8.0" text-anchor="start" fill="#383838" font-weight="normal" stroke="#383838" stroke-width="0.05" textLength="92" lengthAdjust="spacingAndGlyphs">ICAHT Grade 0-2 (n = 73)</text>
<text x="235.90" y="49.60" font-size="8.0" text-anchor="start" fill="#383838" font-weight="normal" stroke="#383838" stroke-width="0.05" textLength="92" lengthAdjust="spacingAndGlyphs">ICAHT Grade 3-4 (n = 83)</text>
<line x1="392.10" y1="38.10" x2="401.30" y2="38.10" stroke="#c6caa6" stroke-width="1.1"/>
<line x1="392.10" y1="47.30" x2="401.30" y2="47.30" stroke="#9c9cd8" stroke-width="1.1"/>
<text x="405.00" y="40.40" font-size="8.0" text-anchor="start" fill="#383838" font-weight="normal" stroke="#383838" stroke-width="0.05" textLength="101.5" lengthAdjust="spacingAndGlyphs">Low disease burden (n = 51)</text>
<text x="405.00" y="49.60" font-size="8.0" text-anchor="start" fill="#383838" font-weight="normal" stroke="#383838" stroke-width="0.05" textLength="107.3" lengthAdjust="spacingAndGlyphs">High disease burden (n = 100)</text>
<line x1="222.50" y1="203.20" x2="232.60" y2="203.20" stroke="#8ccde8" stroke-width="1.1"/>
<line x1="222.50" y1="212.30" x2="232.60" y2="212.30" stroke="#c8414b" stroke-width="1.1"/>
<text x="235.90" y="205.60" font-size="8.0" text-anchor="start" fill="#383838" font-weight="normal" stroke="#383838" stroke-width="0.05" textLength="92" lengthAdjust="spacingAndGlyphs">ICAHT Grade 0-2 (n = 73)</text>
<text x="235.90" y="214.80" font-size="8.0" text-anchor="start" fill="#383838" font-weight="normal" stroke="#383838" stroke-width="0.05" textLength="92" lengthAdjust="spacingAndGlyphs">ICAHT Grade 3-4 (n = 83)</text>
<line x1="393.50" y1="203.20" x2="404.60" y2="203.20" stroke="#c6caa6" stroke-width="1.1"/>
<line x1="393.50" y1="212.30" x2="404.60" y2="212.30" stroke="#9c9cd8" stroke-width="1.1"/>
<text x="407.50" y="205.60" font-size="8.0" text-anchor="start" fill="#383838" font-weight="normal" stroke="#383838" stroke-width="0.05" textLength="100.4" lengthAdjust="spacingAndGlyphs">Low disease burden (n = 51)</text>
<text x="407.50" y="214.80" font-size="8.0" text-anchor="start" fill="#383838" font-weight="normal" stroke="#383838" stroke-width="0.05" textLength="106.7" lengthAdjust="spacingAndGlyphs">High disease burden (n = 100)</text>
<rect x="61.30" y="418.30" width="14.00" height="22.20" fill="#f9d8e8"/>
<rect x="61.30" y="392.90" width="14.00" height="25.40" fill="#f4b6d3"/>
<rect x="61.30" y="382.70" width="14.00" height="10.20" fill="#f08ab9"/>
<rect x="61.30" y="369.30" width="14.00" height="13.40" fill="#e8438f"/>
<rect x="61.30" y="368.00" width="14.00" height="1.30" fill="#e3057f"/>
<rect x="83.10" y="430.30" width="13.80" height="10.20" fill="#f4b6d3"/>
<rect x="83.10" y="422.20" width="13.80" height="8.10" fill="#f08ab9"/>
<rect x="83.10" y="392.80" width="13.80" height="29.40" fill="#e8438f"/>
<rect x="83.10" y="368.00" width="13.80" height="24.80" fill="#e3057f"/>
<line x1="53.50" y1="365.50" x2="53.50" y2="443.60" stroke="#111" stroke-width="1.1"/>
<line x1="50.20" y1="443.10" x2="53.50" y2="443.10" stroke="#111" stroke-width="1.1"/>
<text x="47.50" y="445.80" font-size="7.8" text-anchor="end" fill="#333" font-weight="normal" stroke="#333" stroke-width="0.15">0</text>
<line x1="50.20" y1="424.30" x2="53.50" y2="424.30" stroke="#111" stroke-width="1.1"/>
<text x="47.50" y="427.00" font-size="7.8" text-anchor="end" fill="#333" font-weight="normal" stroke="#333" stroke-width="0.15">25</text>
<line x1="50.20" y1="405.50" x2="53.50" y2="405.50" stroke="#111" stroke-width="1.1"/>
<text x="47.50" y="408.20" font-size="7.8" text-anchor="end" fill="#333" font-weight="normal" stroke="#333" stroke-width="0.15">50</text>
<line x1="50.20" y1="386.70" x2="53.50" y2="386.70" stroke="#111" stroke-width="1.1"/>
<text x="47.50" y="389.40" font-size="7.8" text-anchor="end" fill="#333" font-weight="normal" stroke="#333" stroke-width="0.15">75</text>
<line x1="50.20" y1="367.90" x2="53.50" y2="367.90" stroke="#111" stroke-width="1.1"/>
<text x="47.50" y="370.60" font-size="7.8" text-anchor="end" fill="#333" font-weight="normal" stroke="#333" stroke-width="0.15">100</text>
<line x1="53.00" y1="443.30" x2="103.80" y2="443.30" stroke="#111" stroke-width="1.1"/>
<line x1="68.50" y1="443.30" x2="68.50" y2="446.60" stroke="#111" stroke-width="1.1"/>
<text transform="translate(71.50,453.80) rotate(-45)" font-size="9.0" text-anchor="end" fill="#333" stroke="#333" stroke-width="0.15">M1</text>
<line x1="90.00" y1="443.30" x2="90.00" y2="446.60" stroke="#111" stroke-width="1.1"/>
<text transform="translate(93.00,453.80) rotate(-45)" font-size="9.0" text-anchor="end" fill="#333" stroke="#333" stroke-width="0.15">M2/M3</text>
<text transform="translate(28.00,404.2) rotate(-90)" font-size="10.0" text-anchor="middle" fill="#333" stroke="#333" stroke-width="0.12" textLength="80.3" lengthAdjust="spacingAndGlyphs">Percentage of patients</text>
<rect x="233.80" y="431.50" width="14.10" height="9.00" fill="#f9d8e8"/>
<rect x="233.80" y="415.90" width="14.10" height="15.60" fill="#f4b6d3"/>
<rect x="233.80" y="405.40" width="14.10" height="10.50" fill="#f08ab9"/>
<rect x="233.80" y="384.40" width="14.10" height="21.00" fill="#e8438f"/>
<rect x="233.80" y="368.00" width="14.10" height="16.40" fill="#e3057f"/>
<rect x="255.60" y="435.20" width="14.30" height="5.30" fill="#f9d8e8"/>
<rect x="255.60" y="422.60" width="14.30" height="12.60" fill="#f4b6d3"/>
<rect x="255.60" y="418.00" width="14.30" height="4.60" fill="#f08ab9"/>
<rect x="255.60" y="381.40" width="14.30" height="36.60" fill="#e8438f"/>
<rect x="255.60" y="368.00" width="14.30" height="13.40" fill="#e3057f"/>
<line x1="226.50" y1="365.50" x2="226.50" y2="443.60" stroke="#111" stroke-width="1.1"/>
<line x1="223.20" y1="443.10" x2="226.50" y2="443.10" stroke="#111" stroke-width="1.1"/>
<text x="220.50" y="445.80" font-size="7.8" text-anchor="end" fill="#333" font-weight="normal" stroke="#333" stroke-width="0.15">0</text>
<line x1="223.20" y1="424.30" x2="226.50" y2="424.30" stroke="#111" stroke-width="1.1"/>
<text x="220.50" y="427.00" font-size="7.8" text-anchor="end" fill="#333" font-weight="normal" stroke="#333" stroke-width="0.15">25</text>
<line x1="223.20" y1="405.50" x2="226.50" y2="405.50" stroke="#111" stroke-width="1.1"/>
<text x="220.50" y="408.20" font-size="7.8" text-anchor="end" fill="#333" font-weight="normal" stroke="#333" stroke-width="0.15">50</text>
<line x1="223.20" y1="386.70" x2="226.50" y2="386.70" stroke="#111" stroke-width="1.1"/>
<text x="220.50" y="389.40" font-size="7.8" text-anchor="end" fill="#333" font-weight="normal" stroke="#333" stroke-width="0.15">75</text>
<line x1="223.20" y1="367.90" x2="226.50" y2="367.90" stroke="#111" stroke-width="1.1"/>
<text x="220.50" y="370.60" font-size="7.8" text-anchor="end" fill="#333" font-weight="normal" stroke="#333" stroke-width="0.15">100</text>
<line x1="226.00" y1="443.30" x2="276.60" y2="443.30" stroke="#111" stroke-width="1.1"/>
<line x1="240.80" y1="443.30" x2="240.80" y2="446.60" stroke="#111" stroke-width="1.1"/>
<text transform="translate(243.80,453.80) rotate(-45)" font-size="9.0" text-anchor="end" fill="#333" stroke="#333" stroke-width="0.15">Gr 0-2</text>
<line x1="262.50" y1="443.30" x2="262.50" y2="446.60" stroke="#111" stroke-width="1.1"/>
<text transform="translate(265.50,453.80) rotate(-45)" font-size="9.0" text-anchor="end" fill="#333" stroke="#333" stroke-width="0.15">Gr 3-4</text>
<text transform="translate(201.00,404.2) rotate(-90)" font-size="10.0" text-anchor="middle" fill="#333" stroke="#333" stroke-width="0.12" textLength="80.3" lengthAdjust="spacingAndGlyphs">Percentage of patients</text>
<text x="233.20" y="483.00" font-size="10.3" text-anchor="start" fill="#333" font-weight="normal" stroke="#333" stroke-width="0.15" textLength="37.8" lengthAdjust="spacingAndGlyphs">CRS Grade</text>
<rect x="417.10" y="422.90" width="14.30" height="17.60" fill="#cdd2e7"/>
<rect x="417.10" y="388.60" width="14.30" height="34.30" fill="#a4aed1"/>
<rect x="417.10" y="373.80" width="14.30" height="14.80" fill="#6f82b3"/>
<rect x="417.10" y="368.00" width="14.30" height="5.80" fill="#40609b"/>
<rect x="439.00" y="427.70" width="13.90" height="12.80" fill="#cdd2e7"/>
<rect x="439.00" y="406.60" width="13.90" height="21.10" fill="#a4aed1"/>
<rect x="439.00" y="384.70" width="13.90" height="21.90" fill="#6f82b3"/>
<rect x="439.00" y="371.30" width="13.90" height="13.40" fill="#40609b"/>
<rect x="439.00" y="368.00" width="13.90" height="3.30" fill="#1f4382"/>
<line x1="408.90" y1="365.50" x2="408.90" y2="443.60" stroke="#111" stroke-width="1.1"/>
<line x1="405.60" y1="443.10" x2="408.90" y2="443.10" stroke="#111" stroke-width="1.1"/>
<text x="402.90" y="445.80" font-size="7.8" text-anchor="end" fill="#333" font-weight="normal" stroke="#333" stroke-width="0.15">0</text>
<line x1="405.60" y1="424.30" x2="408.90" y2="424.30" stroke="#111" stroke-width="1.1"/>
<text x="402.90" y="427.00" font-size="7.8" text-anchor="end" fill="#333" font-weight="normal" stroke="#333" stroke-width="0.15">25</text>
<line x1="405.60" y1="405.50" x2="408.90" y2="405.50" stroke="#111" stroke-width="1.1"/>
<text x="402.90" y="408.20" font-size="7.8" text-anchor="end" fill="#333" font-weight="normal" stroke="#333" stroke-width="0.15">50</text>
<line x1="405.60" y1="386.70" x2="408.90" y2="386.70" stroke="#111" stroke-width="1.1"/>
<text x="402.90" y="389.40" font-size="7.8" text-anchor="end" fill="#333" font-weight="normal" stroke="#333" stroke-width="0.15">75</text>
<line x1="405.60" y1="367.90" x2="408.90" y2="367.90" stroke="#111" stroke-width="1.1"/>
<text x="402.90" y="370.60" font-size="7.8" text-anchor="end" fill="#333" font-weight="normal" stroke="#333" stroke-width="0.15">100</text>
<line x1="408.40" y1="443.30" x2="459.90" y2="443.30" stroke="#111" stroke-width="1.1"/>
<line x1="424.20" y1="443.30" x2="424.20" y2="446.60" stroke="#111" stroke-width="1.1"/>
<text transform="translate(427.20,453.80) rotate(-45)" font-size="9.0" text-anchor="end" fill="#333" stroke="#333" stroke-width="0.15">M1</text>
<line x1="445.80" y1="443.30" x2="445.80" y2="446.60" stroke="#111" stroke-width="1.1"/>
<text transform="translate(448.80,453.80) rotate(-45)" font-size="9.0" text-anchor="end" fill="#333" stroke="#333" stroke-width="0.15">M2/M3</text>
<text transform="translate(383.60,404.2) rotate(-90)" font-size="10.0" text-anchor="middle" fill="#333" stroke="#333" stroke-width="0.12" textLength="80.3" lengthAdjust="spacingAndGlyphs">Percentage of patients</text>
<text x="79.00" y="340.50" font-size="8.6" text-anchor="middle" fill="#3a3a3a" font-weight="normal" stroke="#3a3a3a" stroke-width="0.15" textLength="76" lengthAdjust="spacingAndGlyphs">Percentage of ICAHT</text>
<text x="79.00" y="349.80" font-size="8.6" text-anchor="middle" fill="#3a3a3a" font-weight="normal" stroke="#3a3a3a" stroke-width="0.15" textLength="68" lengthAdjust="spacingAndGlyphs">grades by baseline</text>
<text x="79.00" y="359.00" font-size="8.6" text-anchor="middle" fill="#3a3a3a" font-weight="normal" stroke="#3a3a3a" stroke-width="0.15" textLength="41" lengthAdjust="spacingAndGlyphs">BM disease</text>
<text x="252.00" y="340.50" font-size="8.6" text-anchor="middle" fill="#3a3a3a" font-weight="normal" stroke="#3a3a3a" stroke-width="0.15" textLength="76" lengthAdjust="spacingAndGlyphs">Percentage of ICAHT</text>
<text x="252.00" y="349.80" font-size="8.6" text-anchor="middle" fill="#3a3a3a" font-weight="normal" stroke="#3a3a3a" stroke-width="0.15" textLength="53" lengthAdjust="spacingAndGlyphs">grades by CRS</text>
<text x="252.00" y="359.00" font-size="8.6" text-anchor="middle" fill="#3a3a3a" font-weight="normal" stroke="#3a3a3a" stroke-width="0.15" textLength="28" lengthAdjust="spacingAndGlyphs">severity</text>
<text x="434.60" y="340.50" font-size="8.6" text-anchor="middle" fill="#3a3a3a" font-weight="normal" stroke="#3a3a3a" stroke-width="0.15" textLength="67" lengthAdjust="spacingAndGlyphs">Percentage of CRS</text>
<text x="434.60" y="349.80" font-size="8.6" text-anchor="middle" fill="#3a3a3a" font-weight="normal" stroke="#3a3a3a" stroke-width="0.15" textLength="68" lengthAdjust="spacingAndGlyphs">grades by baseline</text>
<text x="434.60" y="359.00" font-size="8.6" text-anchor="middle" fill="#3a3a3a" font-weight="normal" stroke="#3a3a3a" stroke-width="0.15" textLength="41.6" lengthAdjust="spacingAndGlyphs">BM Disease</text>
<text x="109.20" y="382.10" font-size="8.5" text-anchor="start" fill="#333" font-weight="normal" stroke="#333" stroke-width="0.15" textLength="48.8" lengthAdjust="spacingAndGlyphs">ICAHT Grade</text>
<rect x="109.20" y="386.90" width="9.7" height="4.6" fill="#e3057f"/>
<text x="122.20" y="392.20" font-size="8.4" text-anchor="start" fill="#333" font-weight="normal" stroke="#333" stroke-width="0.15">4</text>
<rect x="109.20" y="397.20" width="9.7" height="4.6" fill="#e8438f"/>
<text x="122.20" y="402.50" font-size="8.4" text-anchor="start" fill="#333" font-weight="normal" stroke="#333" stroke-width="0.15">3</text>
<rect x="109.20" y="407.70" width="9.7" height="4.6" fill="#f08ab9"/>
<text x="122.20" y="413.00" font-size="8.4" text-anchor="start" fill="#333" font-weight="normal" stroke="#333" stroke-width="0.15">2</text>
<rect x="109.20" y="418.10" width="9.7" height="4.6" fill="#f4b6d3"/>
<text x="122.20" y="423.40" font-size="8.4" text-anchor="start" fill="#333" font-weight="normal" stroke="#333" stroke-width="0.15">1</text>
<rect x="109.20" y="428.50" width="9.7" height="4.6" fill="#f9d8e8"/>
<text x="122.20" y="433.80" font-size="8.4" text-anchor="start" fill="#333" font-weight="normal" stroke="#333" stroke-width="0.15">0</text>
<text x="282.10" y="382.10" font-size="8.5" text-anchor="start" fill="#333" font-weight="normal" stroke="#333" stroke-width="0.15" textLength="48.3" lengthAdjust="spacingAndGlyphs">ICAHT Grade</text>
<rect x="282.10" y="386.90" width="9.7" height="4.6" fill="#e3057f"/>
<text x="295.10" y="392.20" font-size="8.4" text-anchor="start" fill="#333" font-weight="normal" stroke="#333" stroke-width="0.15">4</text>
<rect x="282.10" y="397.20" width="9.7" height="4.6" fill="#e8438f"/>
<text x="295.10" y="402.50" font-size="8.4" text-anchor="start" fill="#333" font-weight="normal" stroke="#333" stroke-width="0.15">3</text>
<rect x="282.10" y="407.70" width="9.7" height="4.6" fill="#f08ab9"/>
<text x="295.10" y="413.00" font-size="8.4" text-anchor="start" fill="#333" font-weight="normal" stroke="#333" stroke-width="0.15">2</text>
<rect x="282.10" y="418.10" width="9.7" height="4.6" fill="#f4b6d3"/>
<text x="295.10" y="423.40" font-size="8.4" text-anchor="start" fill="#333" font-weight="normal" stroke="#333" stroke-width="0.15">1</text>
<rect x="282.10" y="428.50" width="9.7" height="4.6" fill="#f9d8e8"/>
<text x="295.10" y="433.80" font-size="8.4" text-anchor="start" fill="#333" font-weight="normal" stroke="#333" stroke-width="0.15">0</text>
<text x="465.00" y="382.10" font-size="8.5" text-anchor="start" fill="#333" font-weight="normal" stroke="#333" stroke-width="0.15" textLength="40" lengthAdjust="spacingAndGlyphs">CRS Grade</text>
<rect x="465.00" y="386.90" width="9.7" height="4.6" fill="#1f4382"/>
<text x="478.00" y="392.20" font-size="8.4" text-anchor="start" fill="#333" font-weight="normal" stroke="#333" stroke-width="0.15">4</text>
<rect x="465.00" y="397.20" width="9.7" height="4.6" fill="#40609b"/>
<text x="478.00" y="402.50" font-size="8.4" text-anchor="start" fill="#333" font-weight="normal" stroke="#333" stroke-width="0.15">3</text>
<rect x="465.00" y="407.70" width="9.7" height="4.6" fill="#6f82b3"/>
<text x="478.00" y="413.00" font-size="8.4" text-anchor="start" fill="#333" font-weight="normal" stroke="#333" stroke-width="0.15">2</text>
<rect x="465.00" y="418.10" width="9.7" height="4.6" fill="#a4aed1"/>
<text x="478.00" y="423.40" font-size="8.4" text-anchor="start" fill="#333" font-weight="normal" stroke="#333" stroke-width="0.15">1</text>
<rect x="465.00" y="428.50" width="9.7" height="4.6" fill="#cdd2e7"/>
<text x="478.00" y="433.80" font-size="8.4" text-anchor="start" fill="#333" font-weight="normal" stroke="#333" stroke-width="0.15" textLength="28" lengthAdjust="spacingAndGlyphs">No CRS</text>
<rect x="0.5" y="0.5" width="519" height="492" fill="none" stroke="#444" stroke-width="1"/>
</svg></body></html>
